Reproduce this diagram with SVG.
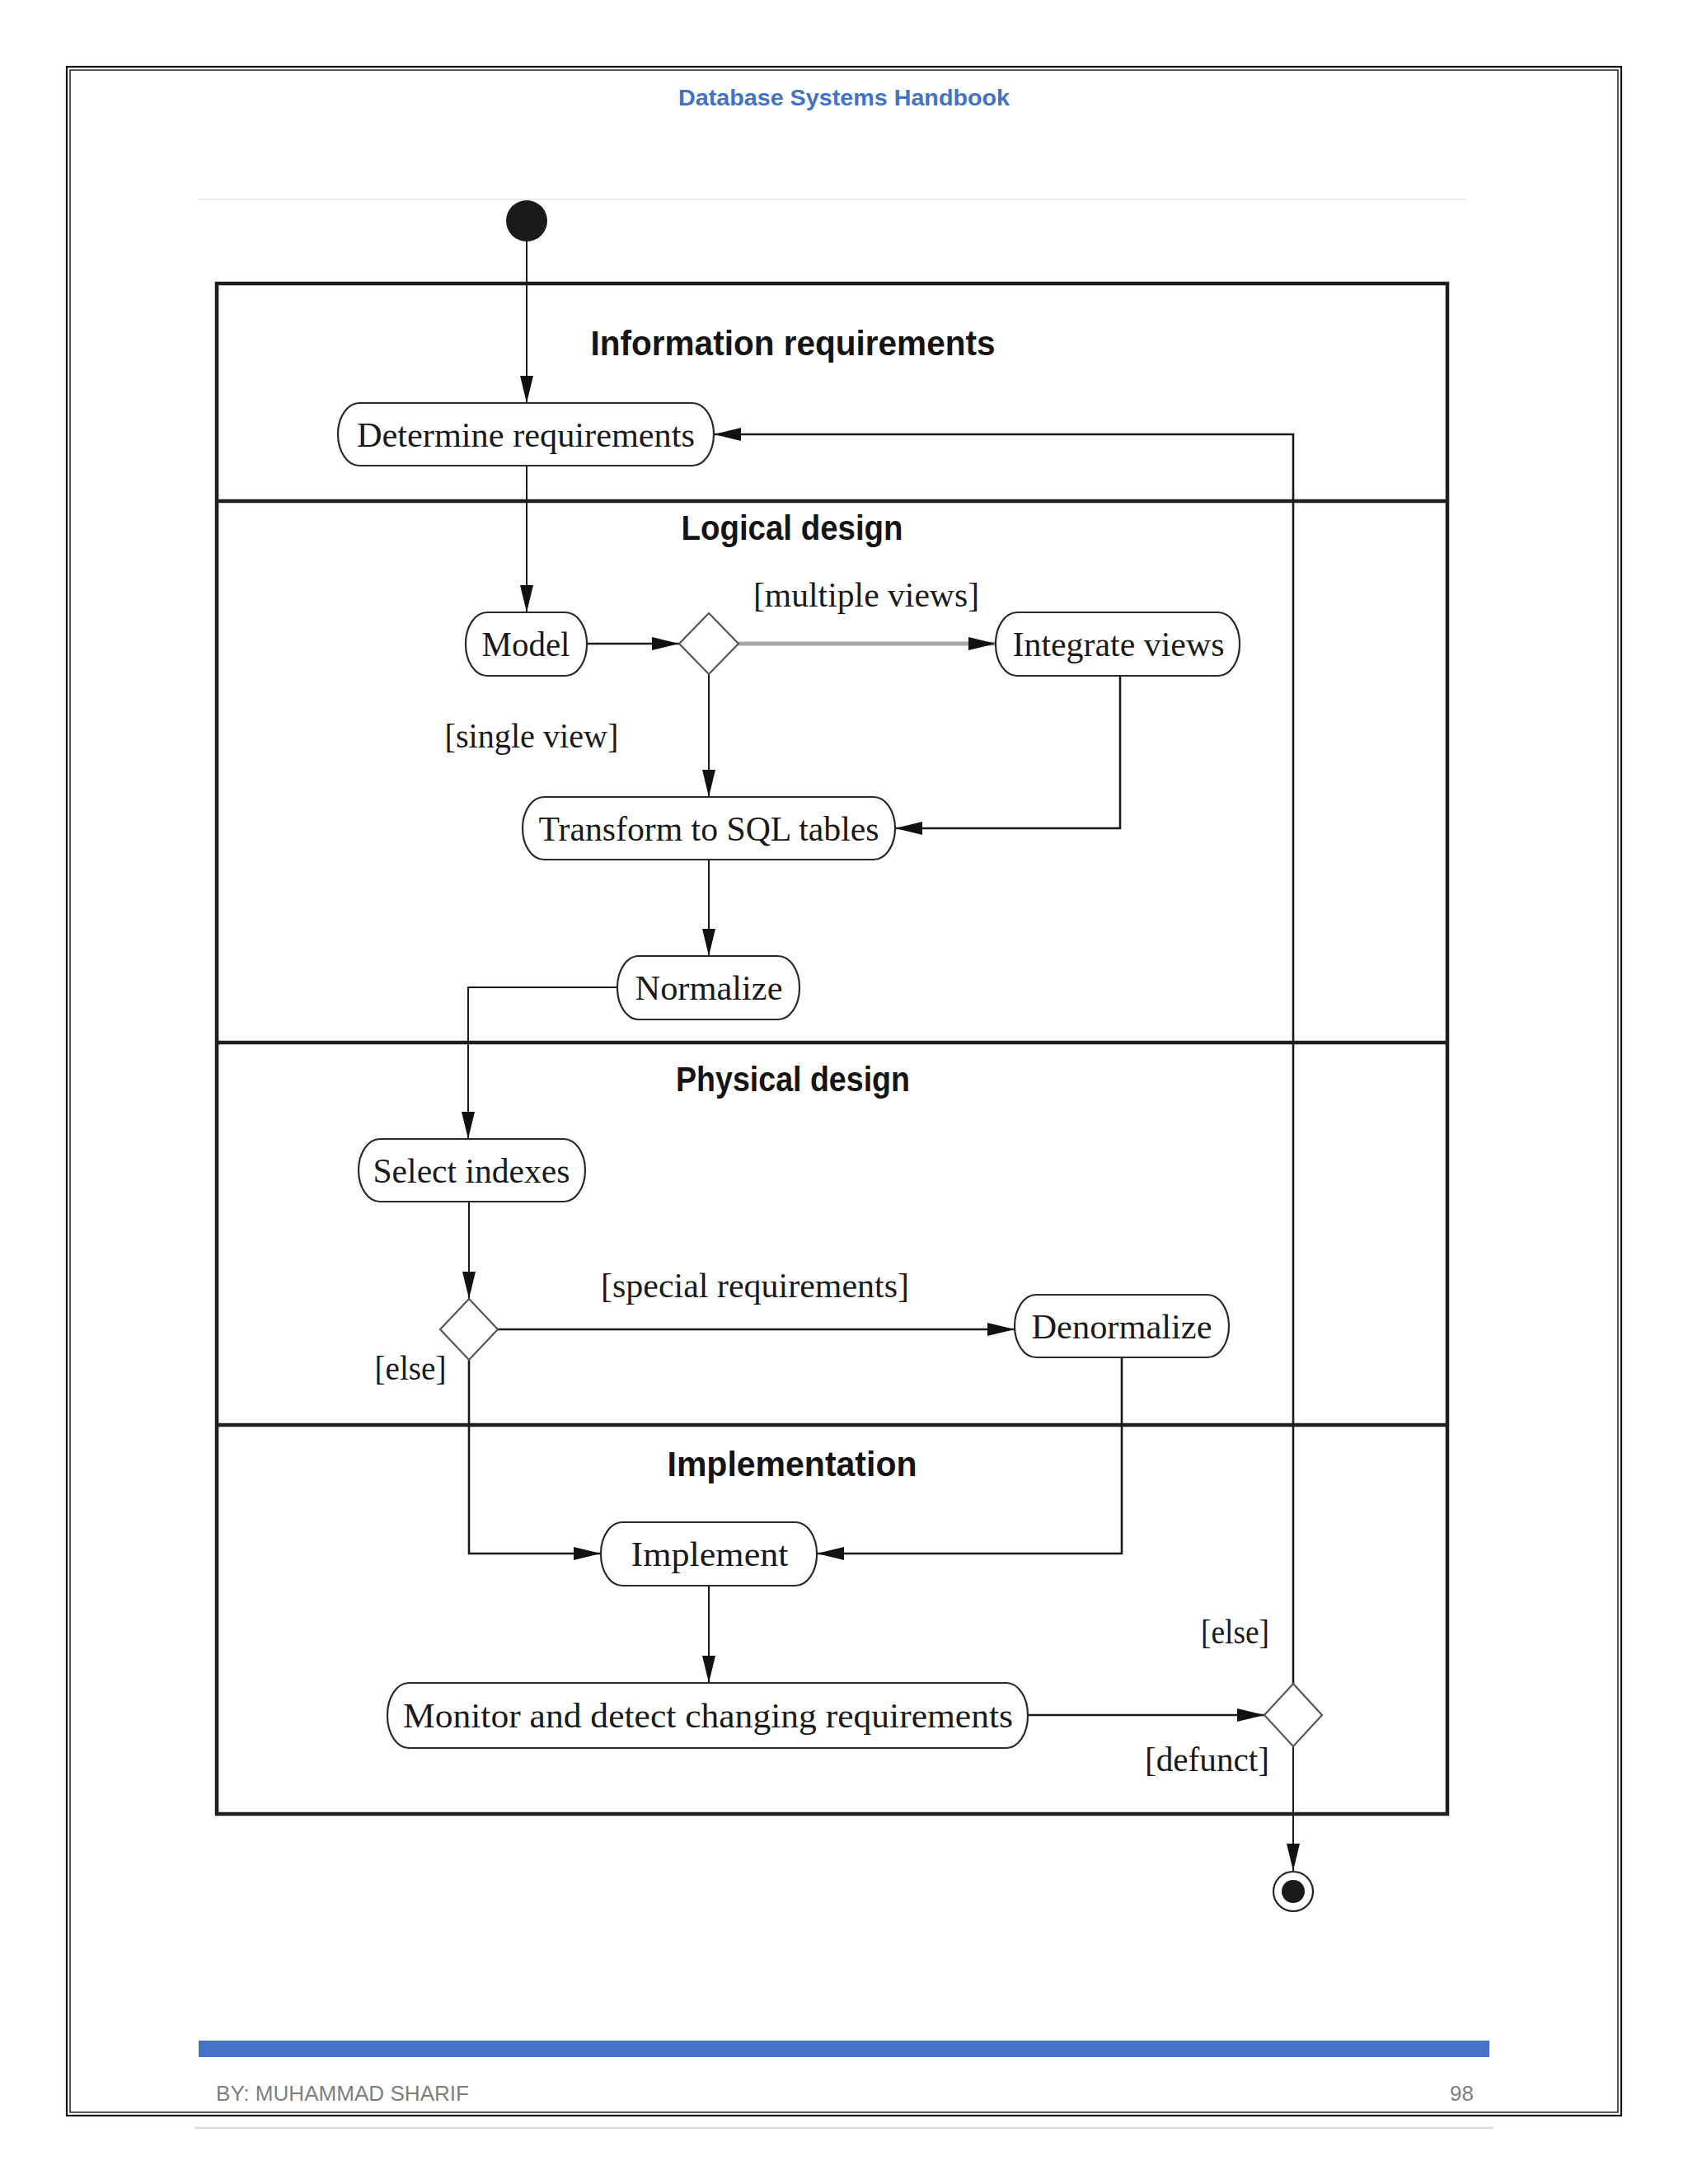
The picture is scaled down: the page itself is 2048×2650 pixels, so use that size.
<svg xmlns="http://www.w3.org/2000/svg" width="2048" height="2650" viewBox="0 0 2048 2650">
<style>
.node{fill:#fff;stroke:#2a2a2a;stroke-width:2.2}
.dia{fill:#fff;stroke:#555;stroke-width:2.2}
.nt{font-family:"Liberation Serif","Times New Roman",serif;font-size:43px;fill:#1a1a1a;text-anchor:middle}
.lbl{font-family:"Liberation Serif","Times New Roman",serif;font-size:42px;fill:#1a1a1a}
.lane{font-family:"Liberation Sans",Arial,sans-serif;font-weight:bold;font-size:42px;fill:#141414;text-anchor:middle}
.frame{fill:none;stroke:#1e1e1e;stroke-width:4.5}
.c{fill:none;stroke:#1a1a1a;stroke-width:2}
.h{fill:none;stroke:#1a1a1a;stroke-width:2.6}
</style>
<defs>
<marker id="ah" markerUnits="userSpaceOnUse" markerWidth="34" markerHeight="18" viewBox="0 0 34 18" refX="33" refY="9" orient="auto">
<path d="M0,1 L33,9 L0,17 Z" fill="#111"/>
</marker>
</defs>
<rect x="0" y="0" width="2048" height="2650" fill="#fff"/>
<g id="page">
<rect x="81" y="81" width="1886" height="2486" fill="none" stroke="#111" stroke-width="2.2"/>
<rect x="85" y="85" width="1878" height="2478" fill="none" stroke="#111" stroke-width="1.4"/>
<text x="1024" y="128" font-family="Liberation Sans,Arial,sans-serif" font-weight="bold" font-size="28" fill="#4472C4" text-anchor="middle" textLength="402" lengthAdjust="spacingAndGlyphs">Database Systems Handbook</text>
<line x1="240" y1="242" x2="1778" y2="242" stroke="#ececec" stroke-width="2"/>
<rect x="241" y="2476" width="1566" height="20" fill="#4472C4"/>
<text x="262" y="2549" font-family="Liberation Sans,Arial,sans-serif" font-size="26" fill="#7f7f7f" textLength="307" lengthAdjust="spacingAndGlyphs">BY: MUHAMMAD SHARIF</text>
<text x="1788" y="2549" font-family="Liberation Sans,Arial,sans-serif" font-size="26" fill="#7f7f7f" text-anchor="end">98</text>
<line x1="236" y1="2582" x2="1812" y2="2582" stroke="#dcdcdc" stroke-width="2.5"/>
</g>
<g id="swimlanes">
<rect class="frame" x="263" y="344" width="1493" height="1857"/>
<line class="frame" x1="263" y1="608" x2="1756" y2="608"/>
<line class="frame" x1="263" y1="1265" x2="1756" y2="1265"/>
<line class="frame" x1="263" y1="1729" x2="1756" y2="1729"/>
<text class="lane" x="962" y="431" textLength="491" lengthAdjust="spacingAndGlyphs">Information requirements</text>
<text class="lane" x="961" y="655" textLength="269" lengthAdjust="spacingAndGlyphs">Logical design</text>
<text class="lane" x="962" y="1324" textLength="284" lengthAdjust="spacingAndGlyphs">Physical design</text>
<text class="lane" x="961" y="1791" textLength="303" lengthAdjust="spacingAndGlyphs">Implementation</text>
</g>
<g id="connectors">
<line class="c" x1="639" y1="292" x2="639" y2="489" marker-end="url(#ah)"/>
<line class="c" x1="639" y1="565" x2="639" y2="743" marker-end="url(#ah)"/>
<line class="h" x1="712" y1="781" x2="824" y2="781" marker-end="url(#ah)"/>
<line x1="896" y1="781" x2="1208" y2="781" stroke="#a9a9a9" stroke-width="5" marker-end="url(#ah)"/>
<line class="c" x1="860" y1="818" x2="860" y2="967" marker-end="url(#ah)"/>
<polyline class="h" points="1359,820 1359,1005 1086,1005" marker-end="url(#ah)"/>
<line class="c" x1="860" y1="1043" x2="860" y2="1160" marker-end="url(#ah)"/>
<polyline class="c" points="749,1198 568,1198 568,1382" marker-end="url(#ah)"/>
<line class="c" x1="569" y1="1458" x2="569" y2="1576" marker-end="url(#ah)"/>
<line class="h" x1="604" y1="1613" x2="1231" y2="1613" marker-end="url(#ah)"/>
<polyline class="h" points="569,1650 569,1885 729,1885" marker-end="url(#ah)"/>
<polyline class="h" points="1361,1647 1361,1885 991,1885" marker-end="url(#ah)"/>
<line class="c" x1="860" y1="1924" x2="860" y2="2042" marker-end="url(#ah)"/>
<line class="h" x1="1247" y1="2081" x2="1534" y2="2081" marker-end="url(#ah)"/>
<polyline class="h" points="1569,2043 1569,527 866,527" marker-end="url(#ah)"/>
<line class="c" x1="1569" y1="2119" x2="1569" y2="2270" marker-end="url(#ah)"/>
<text class="lbl" x="1051" y="736" text-anchor="middle" textLength="274" lengthAdjust="spacingAndGlyphs">[multiple views]</text>
<text class="lbl" x="645" y="907" text-anchor="middle" textLength="211" lengthAdjust="spacingAndGlyphs">[single view]</text>
<text class="lbl" x="916" y="1574" text-anchor="middle" textLength="374" lengthAdjust="spacingAndGlyphs">[special requirements]</text>
<text class="lbl" x="498" y="1674" text-anchor="middle" textLength="87" lengthAdjust="spacingAndGlyphs">[else]</text>
<text class="lbl" x="1540" y="1994" text-anchor="end" textLength="83" lengthAdjust="spacingAndGlyphs">[else]</text>
<text class="lbl" x="1540" y="2149" text-anchor="end" textLength="151" lengthAdjust="spacingAndGlyphs">[defunct]</text>
</g>
<g id="start"><circle cx="639" cy="268" r="25" fill="#1a1a1a"/></g>
<g id="determine-requirements">
<rect class="node" x="410" y="489" width="456" height="76" rx="26" ry="38"/>
<text class="nt" x="638" y="542" textLength="410" lengthAdjust="spacingAndGlyphs">Determine requirements</text>
</g>
<g id="model">
<rect class="node" x="565" y="743" width="147" height="77" rx="26" ry="38"/>
<text class="nt" x="638" y="796" textLength="107" lengthAdjust="spacingAndGlyphs">Model</text>
</g>
<g id="decision-views"><polygon class="dia" points="860,744 896,781 860,818 824,781"/></g>
<g id="integrate-views">
<rect class="node" x="1208" y="743" width="296" height="77" rx="26" ry="38"/>
<text class="nt" x="1357" y="796" textLength="257" lengthAdjust="spacingAndGlyphs">Integrate views</text>
</g>
<g id="transform-sql">
<rect class="node" x="634" y="967" width="452" height="76" rx="26" ry="38"/>
<text class="nt" x="860" y="1020" textLength="413" lengthAdjust="spacingAndGlyphs">Transform to SQL tables</text>
</g>
<g id="normalize">
<rect class="node" x="749" y="1160" width="221" height="77" rx="26" ry="38"/>
<text class="nt" x="860" y="1213" textLength="179" lengthAdjust="spacingAndGlyphs">Normalize</text>
</g>
<g id="select-indexes">
<rect class="node" x="435" y="1382" width="275" height="76" rx="26" ry="38"/>
<text class="nt" x="572" y="1435" textLength="239" lengthAdjust="spacingAndGlyphs">Select indexes</text>
</g>
<g id="decision-special"><polygon class="dia" points="569,1576 604,1613 569,1650 534,1613"/></g>
<g id="denormalize">
<rect class="node" x="1231" y="1571" width="260" height="76" rx="26" ry="38"/>
<text class="nt" x="1361" y="1624" textLength="219" lengthAdjust="spacingAndGlyphs">Denormalize</text>
</g>
<g id="implement">
<rect class="node" x="729" y="1847" width="262" height="77" rx="26" ry="38"/>
<text class="nt" x="861" y="1900" textLength="191" lengthAdjust="spacingAndGlyphs">Implement</text>
</g>
<g id="monitor">
<rect class="node" x="470" y="2042" width="777" height="79" rx="26" ry="39"/>
<text class="nt" x="859" y="2096" textLength="740" lengthAdjust="spacingAndGlyphs">Monitor and detect changing requirements</text>
</g>
<g id="decision-defunct"><polygon class="dia" points="1569,2043 1604,2081 1569,2119 1534,2081"/></g>
<g id="final">
<circle cx="1569" cy="2295" r="24" fill="#fff" stroke="#222" stroke-width="2.2"/>
<circle cx="1569" cy="2295" r="14" fill="#1a1a1a"/>
</g>
</svg>
